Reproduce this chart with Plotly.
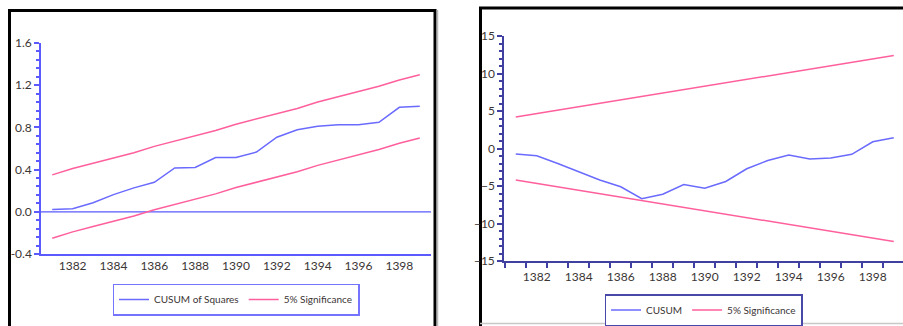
import plotly.graph_objects as go

W, H = 903, 326

years = list(range(1381, 1400))

# Left panel: CUSUM of Squares test
cusum_sq = [0.022, 0.030, 0.086, 0.163, 0.227, 0.280, 0.416, 0.420, 0.515, 0.515,
            0.566, 0.707, 0.778, 0.810, 0.826, 0.826, 0.848, 0.990, 1.000]
sq_upper = [0.35, 0.41, 0.46, 0.51, 0.56, 0.62, 0.67, 0.72, 0.77, 0.83,
            0.88, 0.93, 0.98, 1.04, 1.09, 1.14, 1.19, 1.25, 1.30]
sq_lower = [-0.25, -0.19, -0.14, -0.09, -0.04, 0.02, 0.07, 0.12, 0.17, 0.23,
            0.28, 0.33, 0.38, 0.44, 0.49, 0.54, 0.59, 0.65, 0.70]

# Right panel: CUSUM test
cusum = [-0.73, -0.96, -2.0, -3.1, -4.2, -5.1, -6.7, -6.1, -4.8, -5.3,
         -4.4, -2.7, -1.6, -0.87, -1.4, -1.27, -0.78, 0.9, 1.44]
cu_upper = [4.20, 4.66, 5.11, 5.57, 6.02, 6.48, 6.93, 7.39, 7.84, 8.30,
            8.76, 9.21, 9.67, 10.12, 10.58, 11.03, 11.49, 11.94, 12.40]
cu_lower = [-4.20, -4.66, -5.11, -5.57, -6.02, -6.48, -6.93, -7.39, -7.84, -8.30,
            -8.76, -9.21, -9.67, -10.12, -10.58, -11.03, -11.49, -11.94, -12.40]

left_ticks = [-0.4, 0.0, 0.4, 0.8, 1.2, 1.6]
left_ticktext = ["-0.4", "0.0", "0.4", "0.8", "1.2", "1.6"]
right_ticks = [-15, -10, -5, 0, 5, 10, 15]
x_ticks = [1382, 1384, 1386, 1388, 1390, 1392, 1394, 1396, 1398]

BLUE = "#6a6aff"
PINK = "#ff5f9c"
TXT = "#3b3535"
FONT = "Lato"

def px(x):
    return x / W

def py(y):
    return 1 - y / H

fig = go.Figure()

fig.add_trace(go.Scatter(x=years, y=cusum_sq, mode="lines", name="CUSUM of Squares",
                         line=dict(color=BLUE, width=1.5), xaxis="x", yaxis="y", legend="legend"))
fig.add_trace(go.Scatter(x=years, y=sq_upper, mode="lines", name="5% Significance",
                         line=dict(color=PINK, width=1.5), xaxis="x", yaxis="y", legend="legend"))
fig.add_trace(go.Scatter(x=years, y=sq_lower, mode="lines", name="5% Significance", showlegend=False,
                         line=dict(color=PINK, width=1.5), xaxis="x", yaxis="y", legend="legend"))

fig.add_trace(go.Scatter(x=years, y=cusum, mode="lines", name="CUSUM",
                         line=dict(color=BLUE, width=1.5), xaxis="x2", yaxis="y2", legend="legend2"))
fig.add_trace(go.Scatter(x=years, y=cu_upper, mode="lines", name="5% Significance",
                         line=dict(color=PINK, width=1.5), xaxis="x2", yaxis="y2", legend="legend2"))
fig.add_trace(go.Scatter(x=years, y=cu_lower, mode="lines", name="5% Significance", showlegend=False,
                         line=dict(color=PINK, width=1.5), xaxis="x2", yaxis="y2", legend="legend2"))

LAX = "#5a5aff"
RAX = "#4040a0"

fig.update_layout(
    width=W, height=H,
    margin=dict(l=0, r=0, t=0, b=0, autoexpand=False),
    paper_bgcolor="white", plot_bgcolor="white",
    font=dict(family=FONT, size=11, color=TXT),
    xaxis=dict(domain=[px(41), px(431)], range=[1380.45, 1399.55], anchor="y", automargin=False,
               showgrid=False, zeroline=False, showline=True, linecolor=LAX, linewidth=1.5,
               tickvals=x_ticks, ticks="", tickfont=dict(size=12, color=TXT, family=FONT)),
    yaxis=dict(domain=[py(254), py(43)], range=[-0.4, 1.6], anchor="x", automargin=False,
               showgrid=False, zeroline=False,
               showline=True, linecolor=LAX, linewidth=1.5,
               tickvals=left_ticks, ticktext=left_ticktext, ticks="outside", ticklen=5,
               tickcolor=LAX, tickwidth=1.5,
               minor=dict(ticks="outside", ticklen=3, tickcolor=LAX, tick0=-0.4, dtick=0.08, tickwidth=1.5),
               tickfont=dict(size=12, color=TXT, family=FONT)),
    xaxis2=dict(domain=[px(504), 1.0], range=[1380.44, 1399.44], anchor="y2", automargin=False,
                showgrid=False, zeroline=False, showline=True, linecolor=RAX, linewidth=1.5,
                tickvals=x_ticks, ticks="", ticklabelstandoff=4,
                minor=dict(ticks="outside", ticklen=5, tickcolor=RAX, tick0=1380.5, dtick=1, tickwidth=1.5),
                tickfont=dict(size=12, color=TXT, family=FONT)),
    yaxis2=dict(domain=[py(261), py(36)], range=[-15, 15], anchor="x2", automargin=False,
                showgrid=False, zeroline=False, showline=True, linecolor=RAX, linewidth=1.5,
                tickvals=right_ticks, ticks="outside", ticklen=5, tickcolor=RAX, tickwidth=1.5,
                minor=dict(ticks="outside", ticklen=3, tickcolor=RAX, tick0=-15, dtick=1, tickwidth=1.5),
                tickfont=dict(size=12, color=TXT, family=FONT)),
    legend=dict(orientation="h", x=px(236), y=py(299.5), xanchor="center", yanchor="middle",
                bordercolor="#7474ff", borderwidth=1.5, bgcolor="white",
                font=dict(size=10, color=TXT, family=FONT), itemwidth=30, tracegroupgap=0),
    legend2=dict(orientation="h", x=px(703.5), y=py(310), xanchor="center", yanchor="middle",
                 bordercolor="#4848a8", borderwidth=1.5, bgcolor="white",
                 font=dict(size=10, color=TXT, family=FONT), itemwidth=30, tracegroupgap=0),
    showlegend=True,
)

shapes = []
# zero reference line in the CUSUM of Squares panel
shapes.append(dict(type="line", xref="x domain", yref="y", x0=0, x1=1, y0=0, y1=0,
                   line=dict(color=LAX, width=1.2), layer="below"))
# left panel frame (with gray shadow on right)
shapes.append(dict(type="line", xref="paper", yref="paper", x0=px(437.5), x1=px(437.5), y0=py(10), y1=py(330),
                   line=dict(color="#b8b8b8", width=1.5)))
shapes.append(dict(type="rect", xref="paper", yref="paper", x0=px(9.5), x1=px(435), y0=py(340), y1=py(10.5),
                   line=dict(color="black", width=3), fillcolor="rgba(0,0,0,0)", layer="below"))
# right panel frame
shapes.append(dict(type="line", xref="paper", yref="paper", x0=px(480), x1=px(910), y0=py(323.5), y1=py(323.5),
                   line=dict(color="#c8c8c8", width=1.5)))
shapes.append(dict(type="rect", xref="paper", yref="paper", x0=px(480.5), x1=px(920), y0=py(340), y1=py(8),
                   line=dict(color="black", width=3), fillcolor="rgba(0,0,0,0)", layer="below"))
fig.update_layout(shapes=shapes)

fig.write_html("out.html", config={"displayModeBar": False},
               post_script="document.body.style.margin='0';document.body.style.overflow='hidden';")
